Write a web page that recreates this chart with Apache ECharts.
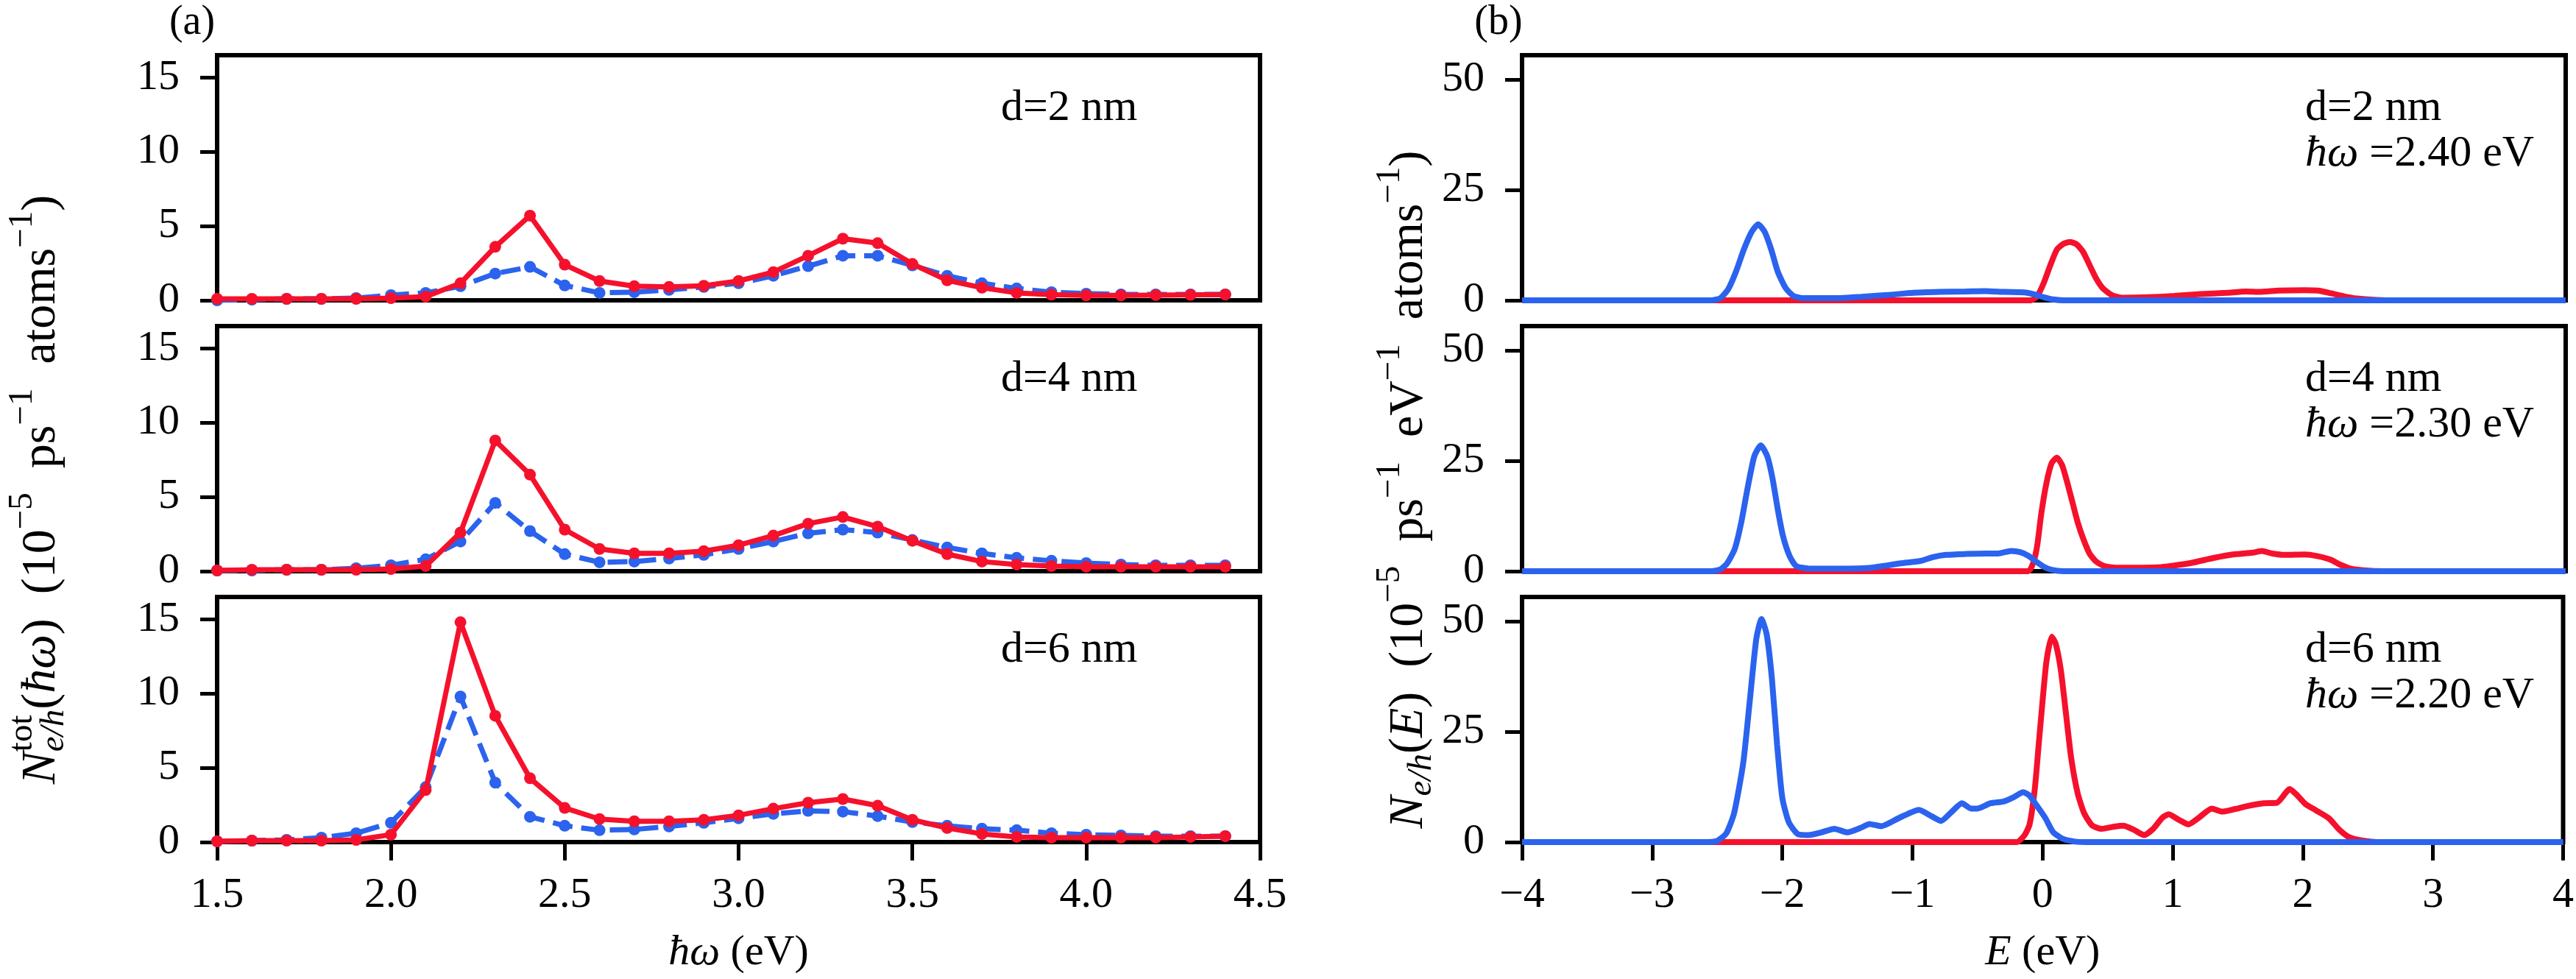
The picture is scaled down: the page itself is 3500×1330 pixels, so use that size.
<!DOCTYPE html>
<html>
<head>
<meta charset="utf-8">
<script src="https://cdn.jsdelivr.net/npm/echarts@6/dist/echarts.min.js"></script>
<style>
  body { margin: 0; padding: 0; background: #fff; }
</style>
</head>
<body>
<div id="main" style="width:3500px;height:1330px;"></div>
<script type="text/javascript">
// photon energies (eV), left column
var hw = [1.5, 1.6, 1.7, 1.8, 1.9, 2.0, 2.1, 2.2, 2.3, 2.4, 2.5, 2.6, 2.7, 2.8, 2.9,
          3.0, 3.1, 3.2, 3.3, 3.4, 3.5, 3.6, 3.7, 3.8, 3.9, 4.0, 4.1, 4.2, 4.3, 4.4];

// N_tot, electrons (red, solid) and holes (blue, dashed)
var totRed2  = [0.1, 0.1, 0.1, 0.1, 0.1, 0.15, 0.25, 1.15, 3.6, 5.7, 2.4, 1.3, 0.95, 0.9, 0.98,
                1.3, 1.9, 3.0, 4.15, 3.85, 2.45, 1.35, 0.85, 0.5, 0.38, 0.33, 0.33, 0.35, 0.37, 0.39];
var totBlue2 = [0.0, 0.05, 0.1, 0.1, 0.15, 0.35, 0.5, 0.95, 1.8, 2.25, 1.0, 0.5, 0.55, 0.7, 0.9,
                1.15, 1.65, 2.3, 3.0, 3.0, 2.35, 1.65, 1.15, 0.8, 0.55, 0.45, 0.4, 0.4, 0.4, 0.4];
var totRed4  = [0.05, 0.1, 0.1, 0.1, 0.1, 0.15, 0.35, 2.6, 8.8, 6.5, 2.8, 1.5, 1.2, 1.2, 1.35,
                1.75, 2.4, 3.2, 3.65, 3.0, 2.05, 1.15, 0.65, 0.45, 0.35, 0.3, 0.3, 0.3, 0.3, 0.3];
var totBlue4 = [0.05, 0.05, 0.1, 0.1, 0.2, 0.4, 0.8, 2.0, 4.6, 2.7, 1.15, 0.6, 0.65, 0.85, 1.1,
                1.5, 2.0, 2.55, 2.8, 2.6, 2.1, 1.6, 1.2, 0.9, 0.7, 0.55, 0.45, 0.4, 0.4, 0.4];
var totRed6  = [0.05, 0.1, 0.1, 0.1, 0.15, 0.5, 3.5, 14.8, 8.5, 4.3, 2.3, 1.55, 1.4, 1.4, 1.5,
                1.8, 2.25, 2.65, 2.9, 2.45, 1.5, 0.95, 0.55, 0.35, 0.3, 0.3, 0.3, 0.3, 0.35, 0.4];
var totBlue6 = [0.05, 0.1, 0.15, 0.3, 0.6, 1.3, 3.7, 9.8, 4.0, 1.7, 1.1, 0.8, 0.85, 1.05, 1.3,
                1.6, 1.9, 2.1, 2.05, 1.75, 1.35, 1.1, 0.9, 0.8, 0.6, 0.5, 0.45, 0.4, 0.4, 0.4];

// energy distributions, right column (E in eV, N)
var eRed2  = [-4, -0.1, -0.05, 0.0, 0.05, 0.1, 0.15, 0.2, 0.25, 0.3, 0.35, 0.4, 0.45, 0.52, 0.6,
              0.8, 1.0, 1.2, 1.4, 1.55, 1.65, 1.8, 2.0, 2.1, 2.2, 2.3, 2.4, 2.55, 2.7, 4];
var nRed2  = [0, 0, 1, 4, 8, 11.5, 12.8, 13.2, 12.7, 11, 8, 5, 2.8, 1.2, 0.6,
              0.7, 1.0, 1.4, 1.7, 2.0, 1.9, 2.2, 2.3, 2.2, 1.6, 0.9, 0.4, 0.1, 0, 0];
var eBlue2 = [-4, -2.55, -2.48, -2.42, -2.36, -2.3, -2.24, -2.19, -2.14, -2.09, -2.04, -1.98, -1.92, -1.85,
              -1.6, -1.4, -1.2, -1.0, -0.8, -0.6, -0.45, -0.3, -0.15, -0.08, 0.0, 0.07, 0.15, 4];
var nBlue2 = [0, 0, 0.5, 2.5, 6.5, 11.5, 15.5, 17.2, 15.5, 11.5, 6.5, 2.8, 1.0, 0.5,
              0.5, 0.8, 1.2, 1.7, 1.9, 2.0, 2.1, 1.9, 1.8, 1.4, 0.7, 0.2, 0, 0];

var eRed4  = [-4, -0.12, -0.08, -0.05, -0.02, 0.02, 0.06, 0.1, 0.14, 0.18, 0.22, 0.26, 0.3, 0.35, 0.4,
              0.46, 0.55, 0.75, 0.9, 1.05, 1.15, 1.3, 1.45, 1.6, 1.67, 1.75, 1.85, 2.0, 2.1, 2.2,
              2.27, 2.35, 2.45, 2.6, 4];
var nRed4  = [0, 0, 2, 6, 13, 20, 24.5, 25.7, 24, 20, 15.5, 11, 7.5, 4, 2.2,
              1.2, 0.8, 0.8, 0.9, 1.5, 2.0, 3.0, 3.8, 4.2, 4.6, 4.0, 3.7, 3.8, 3.4, 2.6,
              1.5, 0.6, 0.2, 0, 0];
var eBlue4 = [-4, -2.55, -2.48, -2.43, -2.37, -2.32, -2.27, -2.22, -2.17, -2.12, -2.08, -2.04, -2.0, -1.95,
              -1.9, -1.8, -1.5, -1.36, -1.2, -1.1, -0.95, -0.85, -0.75, -0.6, -0.45, -0.35, -0.25, -0.18,
              -0.12, -0.06, 0.0, 0.06, 0.15, 4];
var nBlue4 = [0, 0, 0.4, 1.7, 5, 11, 19, 26, 28.5, 26, 21, 14, 8, 3.5,
              1.2, 0.6, 0.6, 0.7, 1.3, 1.8, 2.3, 3.2, 3.7, 3.9, 4.0, 4.0, 4.6, 4.3,
              3.5, 2.2, 1.0, 0.3, 0, 0];

var eRed6  = [-4, -0.2, -0.14, -0.1, -0.06, -0.03, 0.0, 0.03, 0.07, 0.1, 0.14, 0.18, 0.22, 0.27, 0.32,
              0.38, 0.45, 0.55, 0.62, 0.7, 0.78, 0.85, 0.92, 0.97, 1.05, 1.12, 1.2, 1.3, 1.38, 1.48,
              1.58, 1.7, 1.8, 1.9, 1.95, 2.02, 2.1, 2.2, 2.28, 2.35, 2.45, 2.6, 4];
var nRed6  = [0, 0, 1.5, 4, 12, 22, 32, 41, 46.5, 45, 39, 29, 19, 11, 6.5,
              3.8, 3.0, 3.5, 3.7, 2.8, 1.6, 3.0, 5.5, 6.3, 5.0, 4.0, 5.5, 7.6, 6.9, 7.5,
              8.2, 8.8, 8.9, 12, 10.8, 8.6, 7.2, 5.4, 2.8, 1.2, 0.4, 0, 0];
var eBlue6 = [-4, -2.6, -2.5, -2.43, -2.37, -2.3, -2.25, -2.2, -2.16, -2.12, -2.08, -2.04, -2.0, -1.95,
              -1.88, -1.8, -1.7, -1.6, -1.5, -1.4, -1.33, -1.24, -1.1, -0.95, -0.85, -0.78, -0.7, -0.62,
              -0.55, -0.5, -0.4, -0.3, -0.22, -0.15, -0.1, -0.05, 0.02, 0.08, 0.15, 0.25, 0.35, 4];
var nBlue6 = [0, 0, 0.3, 2, 6.6, 18, 32, 46, 50.5, 47, 37, 22, 10, 4.5,
              1.8, 1.6, 2.2, 3.0, 2.2, 3.2, 4.1, 3.6, 5.5, 7.3, 5.8, 4.8, 6.8, 8.8,
              7.6, 7.6, 8.8, 9.2, 10.2, 11.3, 10.5, 8.5, 5.5, 2.3, 0.8, 0.1, 0, 0];

var xTicksL = [1.5, 2.0, 2.5, 3.0, 3.5, 4.0, 4.5];
var yTicksL = [0, 5, 10, 15];
var xTicksR = [-4, -3, -2, -1, 0, 1, 2, 3, 4];
var yTicksR = [0, 25, 50];
var sizes = ['d=2 nm', 'd=4 nm', 'd=6 nm'];
var photon = ['2.40', '2.30', '2.20'];

var RED = '#f5112c';
var BLUE = '#2b63ee';
var FONT = '"Liberation Serif", "DejaVu Serif", serif';
var FS = 58;
var LFS = 66;

var main = document.getElementById('main');
var myChart = echarts.init(main);

function zip(a, b) {
  return a.map(function (v, i) { return [v, b[i]]; });
}

// text with italic pieces, super/subscripts, laid out by measuring the glyph widths
var ctx = document.createElement('canvas').getContext('2d');
function textWidth(t, size, it) {
  ctx.font = (it ? 'italic ' : '') + size + 'px ' + FONT;
  return ctx.measureText(t).width;
}
function mathText(pieces, x, y, rot, centre, base) {
  var pos = 0, kids = [];
  pieces.forEach(function (p) {
    var w = 0;
    (p.stack || [p]).forEach(function (q) {
      var s = q.s || base;
      kids.push({
        type: 'text', x: pos, y: q.dy || 0,
        style: { text: q.t, fontSize: s, fontFamily: FONT, fontStyle: q.it ? 'italic' : 'normal',
                 fill: '#000', align: 'left', verticalAlign: 'middle' }
      });
      w = Math.max(w, textWidth(q.t, s, q.it));
    });
    pos += w;
  });
  if (centre) kids.forEach(function (k) { k.x -= pos / 2; });
  return { type: 'group', x: x, y: y, rotation: rot, children: kids };
}
function sup(t, it) { return { t: t, s: 47, dy: -26, it: it }; }
function sub(t, it) { return { t: t, s: 47, dy: 17, it: it }; }

var gridLeft = [295, 2068];
var gridWidth = [1417, 1418];
var gridTop = [75, 443, 811];
var gridHeight = 333;

var grids = [], xAxes = [], yAxes = [], series = [];
var leftRed = [totRed2, totRed4, totRed6];
var leftBlue = [totBlue2, totBlue4, totBlue6];
var rightData = [[eRed2, nRed2, eBlue2, nBlue2], [eRed4, nRed4, eBlue4, nBlue4], [eRed6, nRed6, eBlue6, nBlue6]];

var labelStyle = { color: '#000', fontSize: FS, fontFamily: FONT };

for (var c = 0; c < 2; c++) {
  for (var r = 0; r < 3; r++) {
    var idx = grids.length;
    var last = r === 2;
    grids.push({
      show: true, left: gridLeft[c], top: gridTop[r], width: gridWidth[c], height: gridHeight,
      borderColor: '#000', borderWidth: 6, backgroundColor: 'transparent'
    });
    xAxes.push({
      type: 'value', gridIndex: idx,
      min: c === 0 ? 1.5 : -4, max: c === 0 ? 4.5 : 4, interval: c === 0 ? 0.5 : 1,
      axisLine: { show: false, onZero: false },
      axisTick: last ? { show: true, length: 25, lineStyle: { color: '#000', width: 5 },
                         customValues: c === 0 ? xTicksL : xTicksR } : { show: false },
      axisLabel: last ? Object.assign({ margin: 44,
                         customValues: c === 0 ? xTicksL : xTicksR,
                         formatter: c === 0 ? function (v) { return v.toFixed(1); }
                                            : function (v) { return v < 0 ? '\u2212' + Math.abs(v) : String(v); }
                       }, labelStyle) : { show: false },
      splitLine: { show: false },
      name: last ? (c === 0 ? '{i|ħω} (eV)' : '{i|E} (eV)') : '',
      nameLocation: 'middle', nameGap: 122,
      nameTextStyle: { color: '#000', fontSize: FS, fontFamily: FONT,
                       rich: { i: { fontStyle: 'italic', fontSize: FS, fontFamily: FONT, color: '#000' } } }
    });
    yAxes.push({
      type: 'value', gridIndex: idx,
      min: 0, max: c === 0 ? 16.5 : 55.5, interval: c === 0 ? 5 : 25,
      axisLine: { show: false, onZero: false },
      axisTick: { show: true, length: 23, lineStyle: { color: '#000', width: 5 },
                  customValues: c === 0 ? yTicksL : yTicksR },
      axisLabel: Object.assign({ margin: 51, customValues: c === 0 ? yTicksL : yTicksR }, labelStyle),
      splitLine: { show: false }
    });

    if (c === 0) {
      series.push({
        type: 'line', xAxisIndex: idx, yAxisIndex: idx, data: zip(hw, leftBlue[r]),
        symbol: 'circle', symbolSize: 16, showSymbol: true,
        lineStyle: { color: BLUE, width: 7, type: [27, 12] }, itemStyle: { color: BLUE }, z: 2
      });
      series.push({
        type: 'line', xAxisIndex: idx, yAxisIndex: idx, data: zip(hw, leftRed[r]),
        symbol: 'circle', symbolSize: 16, showSymbol: true,
        lineStyle: { color: RED, width: 7 }, itemStyle: { color: RED }, z: 3
      });
    } else {
      var d = rightData[r];
      series.push({
        type: 'line', xAxisIndex: idx, yAxisIndex: idx, data: zip(d[0], d[1]),
        showSymbol: false, smooth: 0.2, lineStyle: { color: RED, width: 8 }, z: 2
      });
      series.push({
        type: 'line', xAxisIndex: idx, yAxisIndex: idx, data: zip(d[2], d[3]),
        showSymbol: false, smooth: 0.2, lineStyle: { color: BLUE, width: 8 }, z: 3
      });
    }
  }
}

var graphics = [];
graphics.push({ type: 'text', x: 261, y: 31, style: { text: '(a)', fontSize: 56, fontFamily: FONT, fill: '#000', align: 'center', verticalAlign: 'middle' } });
graphics.push({ type: 'text', x: 2036, y: 31, style: { text: '(b)', fontSize: 56, fontFamily: FONT, fill: '#000', align: 'center', verticalAlign: 'middle' } });

for (var k = 0; k < 3; k++) {
  graphics.push({ type: 'text', x: 1360, y: gridTop[k] + 72,
    style: { text: sizes[k], fontSize: 60, fontFamily: FONT, fill: '#000', align: 'left', verticalAlign: 'middle' } });
  graphics.push({ type: 'text', x: 3132, y: gridTop[k] + 72,
    style: { text: sizes[k], fontSize: 60, fontFamily: FONT, fill: '#000', align: 'left', verticalAlign: 'middle' } });
  graphics.push(mathText([{ t: 'ħω', it: true }, { t: ' =' + photon[k] + ' eV' }], 3132, gridTop[k] + 134, 0, false, 60));
}

// y axis titles, read bottom to top
graphics.push(mathText([
  { t: 'N', it: true },
  { stack: [sup('tot'), sub('e/h', true)] },
  { t: '(' }, { t: 'ħω', it: true }, { t: ')  (10' }, sup('\u22125'),
  { t: '  ps' }, sup('\u22121'), { t: '  atoms' }, sup('\u22121'), { t: ')' }
], 57, 665, Math.PI / 2, true, LFS));
graphics.push(mathText([
  { t: 'N', it: true }, sub('e/h', true),
  { t: '(' }, { t: 'E', it: true }, { t: ')  (10' }, sup('\u22125'),
  { t: '  ps' }, sup('\u22121'), { t: '  eV' }, sup('\u22121'), { t: '  atoms' }, sup('\u22121'), { t: ')' }
], 1915, 665, Math.PI / 2, true, LFS));

var option = {
  animation: false,
  backgroundColor: '#fff',
  grid: grids,
  xAxis: xAxes,
  yAxis: yAxes,
  series: series,
  graphic: graphics
};
myChart.setOption(option);
</script>
</body>
</html>
